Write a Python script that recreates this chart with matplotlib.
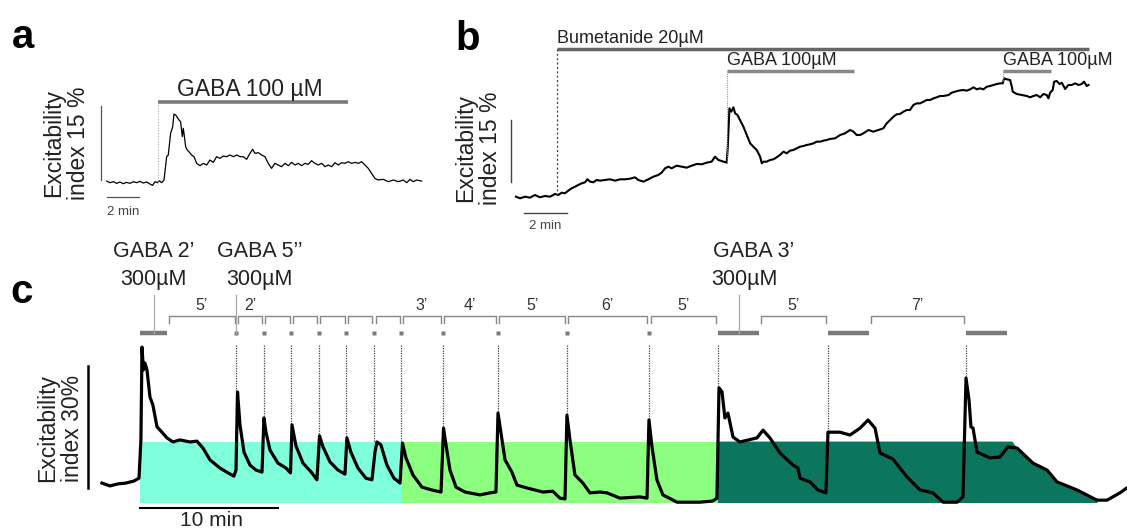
import numpy as np
import matplotlib
matplotlib.use("Agg")
import matplotlib.pyplot as plt

plt.rcParams['font.family'] = ['Liberation Sans', 'DejaVu Sans']

# ---------------- data: panel a (time in min, excitability index in %) ----------------
a_t = [-0.02, 0.19, 0.40, 0.61, 0.82, 1.03, 1.24, 1.46, 1.67, 1.88, 2.09, 2.30, 2.51, 2.72, 2.89,
       3.04, 3.19, 3.31, 3.46, 3.61, 3.78, 3.88, 4.03, 4.16, 4.24, 4.35, 4.45, 4.56, 4.66, 4.77,
       4.83, 4.89, 4.98, 5.08, 5.19, 5.36, 5.51, 5.68, 5.89, 6.10, 6.31, 6.52, 6.73, 6.94, 7.15,
       7.36, 7.57, 7.78, 8.00, 8.21, 8.42, 8.63, 8.84, 9.05, 9.22, 9.37, 9.58, 9.79, 10.00, 10.21,
       10.42, 10.63, 10.84, 11.05, 11.27, 11.48, 11.69, 11.90, 12.11, 12.32, 12.53, 12.74, 12.95,
       13.16, 13.38, 13.59, 13.80, 14.01, 14.22, 14.43, 14.64, 14.85, 15.06, 15.27, 15.49, 15.70,
       15.91, 16.12, 16.33, 16.54, 16.75, 16.96, 17.17, 17.49, 17.81, 18.12, 18.44, 18.76, 18.97,
       19.18, 19.39, 19.60, 19.92]
a_v = [0.20, -0.14, 0.07, -0.27, 0.00, -0.34, -0.07, -0.27, 0.07, -0.14, 0.14, -0.20, 0.00, -0.41, -0.68,
       0.07, -0.14, 0.27, -0.14, 0.41, 5.14, 5.48, 9.87, 11.22, 13.79, 13.59, 13.12, 12.58, 12.24, 9.20,
       10.89, 9.53, 7.17, 6.49, 6.15, 5.48, 5.14, 3.79, 3.31, 3.79, 3.45, 4.46, 3.99, 5.14, 4.80,
       5.27, 5.14, 5.48, 5.14, 5.48, 5.14, 5.14, 4.60, 5.81, 6.63, 5.81, 5.95, 5.48, 5.14, 3.79,
       2.77, 3.79, 3.45, 3.11, 3.79, 3.31, 3.99, 3.45, 3.79, 3.31, 3.79, 3.58, 4.33,
       3.79, 3.45, 3.79, 3.11, 3.45, 3.11, 3.92, 3.45, 3.92, 3.79, 4.12, 3.79, 3.99,
       3.79, 4.12, 3.45, 2.77, 1.76, 0.74, 0.41, 0.54, 0.07, 0.41, 0.07, 0.41, -0.14,
       0.54, 0.07, 0.41, 0.20]
a_gaba = (3.25, 15.27)
a_gaba_label = "GABA 100 µM"

# ---------------- data: panel b ----------------
b_t = [0.00, 0.19, 0.43, 0.66, 0.90, 1.13, 1.37, 1.61, 1.84, 2.00, 2.16, 2.31, 2.47, 2.63, 2.79, 2.94,
       3.10, 3.26, 3.37, 3.50, 3.65, 3.81, 3.97, 4.20, 4.44, 4.68, 4.91, 5.15, 5.39, 5.62, 5.78,
       6.02, 6.25, 6.49, 6.72, 6.88, 7.04, 7.20, 7.35, 7.59, 7.83, 8.06, 8.30, 8.54, 8.77, 9.01,
       9.24, 9.40, 9.56, 9.80, 9.95, 10.00, 10.08, 10.17, 10.27, 10.35, 10.46, 10.58, 10.74, 10.90,
       11.06, 11.21, 11.37, 11.53, 11.61, 11.69, 11.84, 12.00, 12.16, 12.31, 12.47, 12.63, 12.79,
       12.94, 13.10, 13.26, 13.42, 13.57, 13.73, 13.89, 14.05, 14.20, 14.36, 14.52, 14.68, 14.83,
       15.07, 15.31, 15.54, 15.78, 15.94, 16.09, 16.25, 16.41, 16.65, 16.88, 17.12, 17.35, 17.51,
       17.67, 17.83, 17.98, 18.14, 18.30, 18.46, 18.61, 18.77, 18.93, 19.09, 19.24, 19.40, 19.56,
       19.72, 19.87, 20.03, 20.19, 20.43, 20.58, 20.74, 20.90, 21.13, 21.29, 21.45, 21.61, 21.76,
       21.92, 22.08, 22.24, 22.39, 22.55, 22.71, 22.87, 22.99, 23.06, 23.18, 23.34, 23.42, 23.46,
       23.65, 23.89, 24.13, 24.28, 24.44, 24.60, 24.76, 24.91, 25.07, 25.15, 25.23, 25.35, 25.42,
       25.54, 25.67, 25.78, 25.94, 26.09, 26.25, 26.41, 26.57, 26.72, 26.83, 26.96, 27.04]
b_v = [0.00, -0.40, 0.00, -0.24, 0.41, -0.15, 0.17, 0.00, 0.66, 0.41, 0.98, 0.82, 1.47, 2.04, 2.44, 2.85,
       3.25, 3.50, 4.23, 3.66, 3.50, 4.06, 3.90, 4.06, 4.23, 3.90, 4.23, 4.23, 4.39, 4.71, 4.06,
       3.66, 4.23, 4.87, 5.28, 5.85, 6.90, 7.31, 6.90, 7.55, 7.31, 7.06, 7.55, 7.96, 7.88, 8.28,
       8.52, 9.74, 8.93, 8.52, 8.28, 11.76, 21.50, 20.69, 21.74, 20.28, 19.88, 18.66, 17.04, 15.01,
       12.98, 12.17, 11.36, 9.74, 8.12, 8.52, 8.52, 8.93, 9.09, 9.58, 10.15, 10.96, 10.55,
       11.20, 11.36, 11.77, 12.17, 12.33, 12.58, 12.74, 12.98, 13.39, 13.39, 13.63, 13.80, 14.04,
       14.20, 15.01, 15.42, 16.23, 15.82, 15.01, 15.01, 15.42, 16.23, 15.82, 16.23, 16.63, 17.85,
       18.66, 19.47, 20.04, 20.12, 20.69, 21.09, 21.09, 22.31, 22.71, 22.71, 23.12, 23.53, 23.53,
       23.93, 24.18, 24.50, 24.50, 24.74, 25.31, 25.56, 25.80, 25.96, 25.80, 26.12, 26.61, 26.12,
       26.37, 26.12, 26.77, 26.93, 27.18, 27.42, 27.58, 27.58, 28.80, 28.56, 28.39, 26.77, 25.56,
       24.99, 24.74, 24.50, 24.18, 24.50, 24.74, 24.18, 24.99, 24.74, 23.93, 25.31, 25.96, 27.99,
       28.15, 27.42, 27.74, 26.20, 27.18, 27.18, 27.58, 27.18, 27.42, 27.99, 26.93, 27.18]
b_bumetanide = (1.92, 27.07)
b_gaba = [(9.95, 15.97), (23.0, 25.26)]
b_bum_label = "Bumetanide 20µM"
b_gaba_label = "GABA 100µM"

# ---------------- data: panel c ----------------
c_t = [-2.76, -2.18, -1.60, -1.02, -0.44, -0.07, 0.07, 0.15, 0.25, 0.36, 0.51, 0.73, 0.94, 1.24, 1.60,
       1.96, 2.40, 2.91, 3.63, 4.14, 4.58, 5.09, 5.81, 6.40, 6.83, 6.98, 7.09, 7.27, 7.56, 8.00,
       8.43, 8.87, 9.01, 9.16, 9.45, 10.03, 10.61, 10.94, 11.05, 11.34, 11.85, 12.50, 12.86, 13.05,
       13.30, 13.81, 14.39, 14.90, 15.04, 15.33, 15.84, 16.42, 16.86, 17.08, 17.22, 17.51, 17.95,
       18.46, 18.90, 19.08, 19.33, 19.84, 20.49, 21.22, 21.88, 22.06, 22.24, 22.53, 22.97, 23.62,
       24.71, 25.44, 25.87, 26.02, 26.31, 26.53, 27.03, 27.40, 28.12, 29.29, 30.00, 30.52, 30.89,
       31.03, 31.25, 31.61, 32.19, 32.70, 33.43, 33.94, 34.88, 36.34, 36.85, 36.99, 37.21, 37.57,
       38.00, 39.03, 40.70, 41.64, 41.93, 42.08, 42.30, 42.51, 42.73, 43.10, 43.60, 44.84, 45.28,
       45.78, 46.51, 47.46, 47.82, 47.97, 48.69, 49.27, 49.85, 50.00, 50.87, 51.60, 52.33, 52.91,
       53.42, 53.78, 54.72, 55.74, 56.69, 57.63, 58.36, 59.38, 59.81, 60.03, 60.25, 60.39, 60.54,
       60.83, 61.77, 62.50, 63.08, 63.74, 64.90, 65.92, 66.64, 68.10, 69.55, 70.28, 71.22, 71.80]
c_v = [4.9, 4.2, 4.7, 4.9, 5.4, 6.1, 15.5, 38.3, 32.7, 34.4, 32.7, 26.0, 24.1, 18.7, 17.4,
       16.0, 15.0, 15.5, 15.0, 15.2, 13.5, 10.6, 8.6, 7.4, 6.6, 8.1, 27.3, 19.2, 12.5, 9.3,
       8.1, 7.6, 20.9, 17.4, 13.0, 9.8, 8.6, 7.4, 19.2, 14.0, 9.8, 7.4, 5.7, 16.5,
       13.8, 10.1, 8.1, 7.1, 16.0, 12.5, 8.6, 6.1, 5.7, 12.5, 15.0, 14.3, 9.3,
       6.1, 4.9, 14.7, 11.1, 6.9, 3.9, 3.2, 2.7, 18.4, 14.3, 8.1, 3.9, 2.7,
       2.0, 2.5, 2.7, 22.1, 15.5, 10.6, 7.6, 4.4, 3.7, 2.7, 2.9, 1.2, 1.0,
       21.6, 15.5, 6.9, 4.9, 2.5, 2.7, 2.5, 1.2, 1.5, 1.2, 20.4, 13.8, 5.7,
       2.0, 0.2, 0.2, 0.5, 1.2, 28.3, 27.3, 20.9, 22.1, 16.2, 15.0, 16.0, 17.9,
       16.0, 12.3, 9.3, 8.6, 6.1, 5.2, 3.2, 2.5, 17.4, 17.4, 16.7, 18.4, 20.4,
       18.4, 12.3, 10.8, 6.4, 3.2, 2.5, 0.2, 0.2, 1.5, 30.7, 25.3, 18.7, 18.4,
       12.5, 11.1, 11.3, 13.8, 13.5, 9.8, 8.1, 5.2, 3.2, 0.7, 0.7, 2.5, 3.9]

c_gaba_long = [(0, 2), (42, 45), (50, 53), (60, 63)]      # GABA 300 µM applications (min)
c_pulses = [7, 9, 11, 13, 15, 17, 19, 22, 26, 31, 37]      # GABA 5'' pulses (min)
c_intervals = [(2, 7, "5’"), (7, 9, "2’"), (9, 11, ""), (11, 13, ""), (13, 15, ""),
               (15, 17, ""), (17, 19, ""), (19, 22, "3’"), (22, 26, "4’"), (26, 31, "5’"),
               (31, 37, "6’"), (37, 42, "5’"), (45, 50, "5’"), (53, 60, "7’")]
c_phases = [(0, 19, "#80FFDD"), (19, 42, "#8CFF80"), (42, 63.4, "#0C755E")]
c_phase_level = 15.1
c_dark_end = 69.6

W, H = 1127, 530
fig = plt.figure(figsize=(W / 100, H / 100), dpi=100)


def px_axes(x0, y0, x1, y1, xlim, ylim):
    ax = fig.add_axes([x0 / W, 1 - y1 / H, (x1 - x0) / W, (y1 - y0) / H])
    ax.set_xlim(*xlim)
    ax.set_ylim(*ylim)
    ax.axis('off')
    return ax


TXT = '#222222'
GRAY = '#7a7a7a'

# ---------------- panel a ----------------
axa = px_axes(0, 0, 440, 240, (-6.77, 21.08), (-11.76, 36.92))
axa.plot(a_t, a_v, color='black', lw=0.9)
axa.plot(a_gaba, [16.2, 16.2], color=GRAY, lw=2.6, solid_capstyle='butt')
axa.plot([a_gaba[0]] * 2, [16.2, 0], color='#aaaaaa', lw=0.8, ls=(0, (1, 1.5)))
axa.text(np.mean(a_gaba) - 0.2, 18.8, a_gaba_label, ha='center', va='center', fontsize=16.5, color=TXT)
axa.plot([-0.40, -0.40], [0.4, 15.4], color='#555555', lw=0.9)
axa.plot([0, 2], [-3.04, -3.04], color='#555555', lw=0.9)
axa.text(1.0, -4.9, "2 min", ha='center', va='top', fontsize=9.5, color='#444444')
axa.text(-2.59, 7.9, "Excitability\nindex 15 %", rotation=90, ha='center', va='center',
         fontsize=16.5, color=TXT, linespacing=1.1, multialignment='center')

# ---------------- panel b ----------------
axb = px_axes(440, 0, 1127, 240, (-3.59, 28.86), (-10.54, 47.86))
axb.plot(b_t, b_v, color='black', lw=1.5)
axb.plot(b_bumetanide, [35.86, 35.86], color='#666666', lw=2.5, solid_capstyle='butt')
axb.plot([b_bumetanide[0]] * 2, [35.86, 0.4], color='#333333', lw=0.9, ls=(0, (1.5, 2)))
axb.text(b_bumetanide[0], 38.6, b_bum_label, ha='left', va='center', fontsize=13, color=TXT)
for (g0, g1), gv in zip(b_gaba, [8.3, 28.0]):
    axb.plot([g0, g1], [30.7, 30.7], color='#888888', lw=2.5, solid_capstyle='butt')
    axb.plot([g0, g0], [30.7, gv], color='#999999', lw=0.8, ls=(0, (1, 1)))
    axb.text(g0, 33.2, b_gaba_label, ha='left', va='center', fontsize=13, color=TXT)
axb.plot([-0.25, -0.25], [3.65, 18.65], color='#444444', lw=1.0)
axb.plot([0.39, 2.39], [-3.89, -3.89], color='#444444', lw=1.0)
axb.text(1.37, -5.6, "2 min", ha='center', va='top', fontsize=9.5, color='#444444')
axb.text(-1.80, 11.8, "Excitability\nindex 15 %", rotation=90, ha='center', va='center',
         fontsize=16.5, color=TXT, linespacing=1.1, multialignment='center')

# ---------------- panel c ----------------
axc = px_axes(0, 235, 1127, 530, (-10.17, 71.73), (-6.63, 65.85))
ct = np.array(c_t)
cv = np.array(c_v)
for p0, p1, col in c_phases[:-1]:
    axc.fill([p0, p1, p1, p0], [0, 0, c_phase_level, c_phase_level], color=col, lw=0, zorder=1)
d0, d1, dcol = c_phases[-1]
tail = (ct >= d1) & (ct <= c_dark_end)
px_dark = [d0, d0, d1] + list(ct[tail]) + [c_dark_end]
py_dark = [0, c_phase_level, c_phase_level] + list(np.minimum(cv[tail], c_phase_level)) + [0]
axc.fill(px_dark, py_dark, color=dcol, lw=0, zorder=1)

axc.plot(ct, cv, color='black', lw=2.3, zorder=3)

BAR_V = 41.8
for g0, g1 in c_gaba_long:
    axc.plot([g0, g1], [BAR_V, BAR_V], color=GRAY, lw=3.2, solid_capstyle='butt', zorder=2)
axc.plot(c_pulses, [BAR_V] * len(c_pulses), ls='none', marker='s', ms=2.6, color=GRAY, mec='none')

# dotted guide lines down to each response
for tp in c_pulses + [g[0] for g in c_gaba_long[1:]]:
    win = (ct >= tp) & (ct <= tp + 0.5)
    peak = cv[win].max()
    axc.plot([tp, tp], [38.8, peak], color='#444444', lw=0.9, ls=(0, (1, 1)), zorder=2)

# interval brackets
for s, e, lab in c_intervals:
    s2, e2 = s + 0.12, e - 0.12
    axc.plot([s2, s2, e2, e2], [44.2, 45.9, 45.9, 44.2], color='#888888', lw=1.0, zorder=2)
    if lab:
        axc.text((s + e) / 2, 46.6, lab, ha='center', va='bottom', fontsize=11.5, color='#333333')

# application labels
labels_c = [(1.0, 1.0, "GABA 2’"), (8.7, 7.0, "GABA 5’’"), (44.6, 43.5, "GABA 3’")]
conc_x = [1.0, 8.7, 43.9]
for (tx, tick, lab), cx in zip(labels_c, conc_x):
    axc.plot([tick, tick], [BAR_V, 51.1], color='#aaaaaa', lw=0.9, zorder=2)
    axc.text(tx, 61.7, lab, ha='center', va='center', fontsize=15.5, color=TXT)
    axc.text(cx, 54.8, "300µM", ha='center', va='center', fontsize=15.5, color=TXT)

# scale bars
axc.plot([0, 10], [-1.23, -1.23], color='black', lw=1.5)
axc.text(5.2, -4.3, "10 min", ha='center', va='center', fontsize=15, color=TXT)
axc.plot([-3.78, -3.78], [3.7, 33.7], color='black', lw=1.8)
axc.text(-5.8, 18.4, "Excitability\nindex 30%", rotation=90, ha='center', va='center',
         fontsize=16.5, color=TXT, linespacing=1.1, multialignment='center')

# panel letters
for x, y, s in [(12, 48, 'a'), (455, 50, 'b'), (10, 303, 'c')]:
    fig.text(x / W, 1 - y / H, s, fontsize=29, fontweight='bold', ha='left', va='baseline')

fig.savefig('out.png', dpi=100)
